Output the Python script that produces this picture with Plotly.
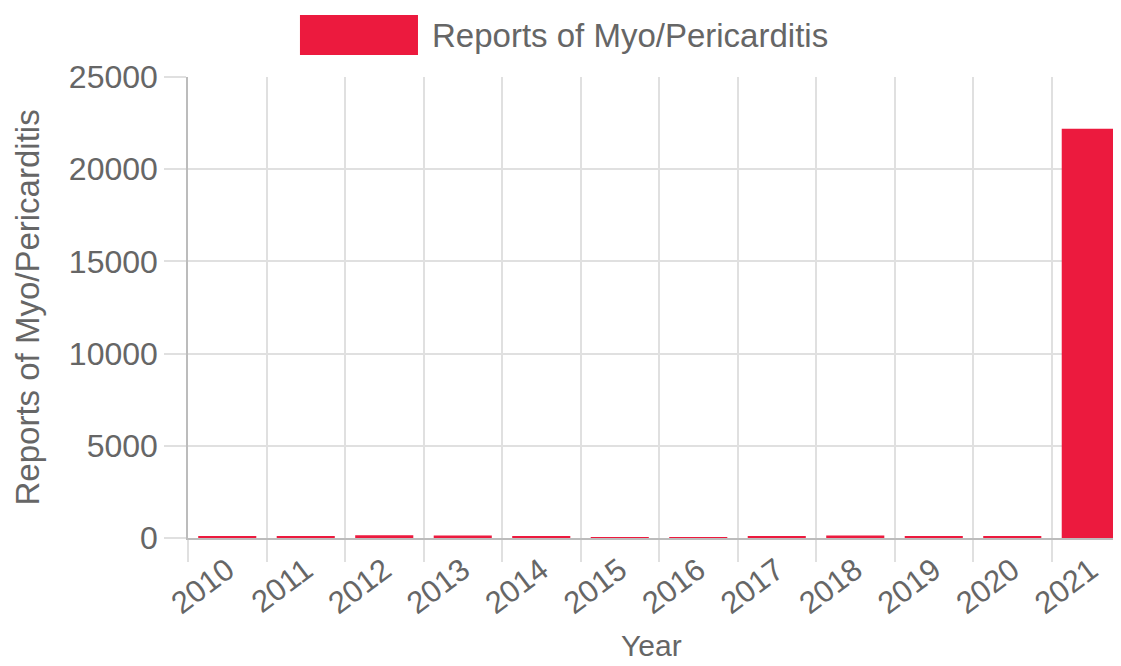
import plotly.graph_objects as go

years = ["2010", "2011", "2012", "2013", "2014", "2015", "2016", "2017", "2018", "2019", "2020", "2021"]
reports = [70, 80, 150, 130, 70, 40, 40, 60, 140, 70, 60, 22200]
series_name = "Reports of Myo/Pericarditis"
x_title = "Year"
y_ticks = [0, 5000, 10000, 15000, 20000, 25000]

RED = "#EC1A3E"
FONT = "Liberation Sans, Arial, Helvetica, sans-serif"
GREY = "#666666"
GRID = "#e0e0e0"
AXIS = "#bcbcbc"

fig = go.Figure()
fig.add_trace(go.Bar(x=years, y=reports, name=series_name, marker_color=RED,
                     marker_line_width=0, showlegend=False))

# page body has an 8px default margin, so the figure is sized/offset for it
fig.update_layout(
    width=1113, height=658,
    margin=dict(l=180, r=0, t=69, b=128, autoexpand=False),
    paper_bgcolor="white", plot_bgcolor="white",
    bargap=0.26,
    font=dict(family=FONT, color=GREY, size=32),
    xaxis=dict(
        type="category", range=[-0.5, 11.385], automargin=False,
        tickson="boundaries", ticks="outside", ticklen=22, tickcolor=GRID, tickwidth=1.5,
        showgrid=True, gridcolor=GRID, gridwidth=1.5,
        showline=True, linecolor=AXIS, linewidth=1.5,
        tickangle=-37, tickfont=dict(size=31, color=GREY),
    ),
    yaxis=dict(
        range=[0, 25000], tickvals=y_ticks, ticktext=[str(v) for v in y_ticks],
        automargin=False,
        ticks="outside", ticklen=22, tickcolor=GRID, tickwidth=1.5,
        showgrid=True, gridcolor=GRID, gridwidth=1.5,
        zeroline=False,
        showline=True, linecolor=AXIS, linewidth=1.5,
        tickfont=dict(size=32, color=GREY),
    ),
)

# axis titles
fig.add_annotation(xref="paper", yref="paper", x=-0.1715, y=0.5,
                   xanchor="center", yanchor="middle", textangle=-90, showarrow=False,
                   text=series_name, font=dict(size=33, color=GREY, family=FONT))
fig.add_annotation(xref="paper", yref="paper", x=0.497, y=-0.234,
                   xanchor="center", yanchor="middle", showarrow=False,
                   text=x_title, font=dict(size=30, color=GREY, family=FONT))

# legend swatch + label (large Chart.js-style legend box)
fig.add_shape(type="rect", xref="paper", yref="paper",
              x0=0.120, x1=0.2465, y0=1.0477, y1=1.1345,
              fillcolor=RED, line=dict(width=0))
fig.add_annotation(xref="paper", yref="paper", x=0.2594, y=1.0911,
                   xanchor="left", yanchor="middle", showarrow=False,
                   text=series_name, font=dict(size=33, color=GREY, family=FONT))

fig.write_html("out.html")
